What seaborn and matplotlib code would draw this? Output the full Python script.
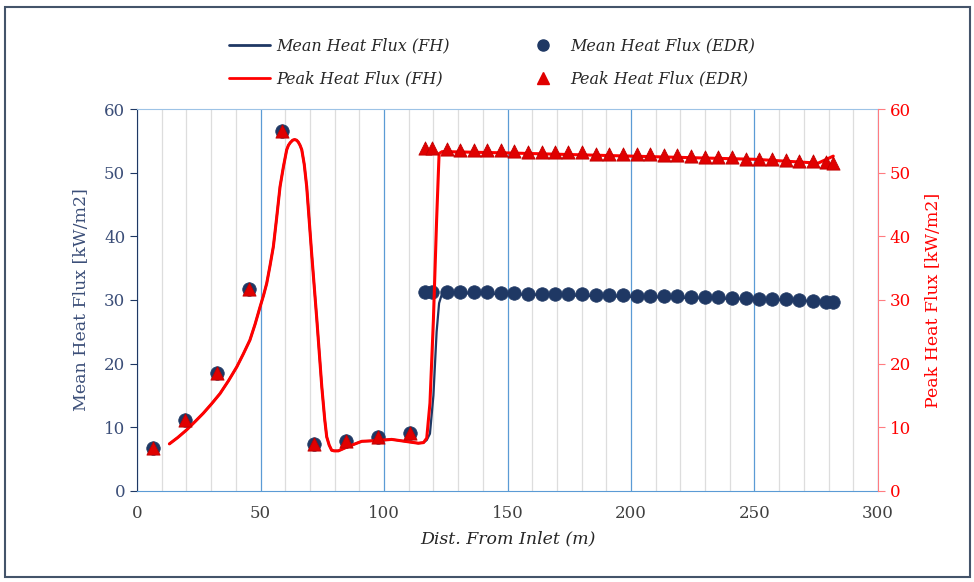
import numpy as np
import pandas as pd
import matplotlib
matplotlib.use("Agg")
import matplotlib.pyplot as plt
from matplotlib.lines import Line2D
from matplotlib.patches import Rectangle
import seaborn as sns

# -------------------------------
# 1. Data
# -------------------------------
edr_x = [6.5, 19.5, 32.5, 45.5, 58.5, 71.5, 84.5, 97.5, 110.5,
         116.6, 119.6, 125.4, 130.8, 136.4, 141.8, 147.4, 152.8, 158.2, 163.8,
         169.2, 174.6, 180.3, 185.7, 191.1, 196.9, 202.3, 207.7, 213.4, 218.5,
         224.2, 229.8, 235.3, 240.8, 246.4, 251.8, 257.2, 262.6, 268.1, 273.6,
         279.0, 281.9]
edr_mean = [6.7, 11.2, 18.6, 31.8, 56.5, 7.4, 7.9, 8.4, 9.1,
            31.3, 31.3, 31.2, 31.2, 31.2, 31.2, 31.1, 31.1, 31.0, 31.0,
            30.9, 30.9, 30.9, 30.8, 30.8, 30.8, 30.7, 30.7, 30.6, 30.6,
            30.5, 30.5, 30.4, 30.3, 30.3, 30.2, 30.1, 30.1, 30.0, 29.9,
            29.7, 29.7]
edr_peak = [6.7, 11.2, 18.6, 31.8, 56.5, 7.4, 7.9, 8.4, 9.1,
            53.8, 53.8, 53.7, 53.6, 53.6, 53.5, 53.5, 53.4, 53.3, 53.3,
            53.3, 53.2, 53.2, 53.0, 53.0, 52.9, 52.9, 52.9, 52.8, 52.7,
            52.6, 52.5, 52.5, 52.4, 52.2, 52.2, 52.1, 52.0, 51.9, 51.8,
            51.6, 51.5]

fh_x = [13.1, 16.5, 20.1, 23.5, 26.8, 30.2, 33.6, 37.0, 40.4, 43.0,
        45.7, 47.8, 49.8, 51.2, 52.5, 53.8, 55.2, 56.5, 57.9, 59.3,
        60.6, 61.3, 62.0, 63.0, 63.8, 64.6, 65.3, 66.0, 66.7, 67.7,
        68.7, 70.7, 72.8, 74.8, 76.0, 76.8, 77.8, 78.8, 79.8, 81.5,
        85.6, 91.0, 96.4, 103.1, 108.5, 113.9, 116.0, 117.3, 118.6, 120.0,
        121.3, 122.3, 123.5, 125.0, 150.0, 200.0, 250.0, 275.8, 281.9]
fh_peak = [7.4, 8.4, 9.6, 10.9, 12.2, 13.7, 15.3, 17.3, 19.5, 21.5,
           23.7, 26.2, 28.9, 30.7, 32.6, 35.3, 38.4, 42.8, 47.8, 51.0,
           53.6, 54.3, 54.7, 55.1, 55.2, 55.1, 54.8, 54.3, 53.6, 51.3,
           47.8, 37.3, 26.9, 16.4, 11.2, 8.5, 7.2, 6.4, 6.3, 6.3,
           7.0, 7.8, 7.9, 8.1, 7.8, 7.5, 7.6, 8.3, 13.8, 26.9,
           42.6, 53.0, 53.3, 53.3, 53.1, 52.6, 52.1, 51.5, 52.6]
fh_mean = [7.4, 8.4, 9.6, 10.9, 12.2, 13.7, 15.3, 17.3, 19.5, 21.5,
           23.7, 26.2, 28.9, 30.7, 32.6, 35.3, 38.4, 42.8, 47.8, 51.0,
           53.6, 54.3, 54.7, 55.1, 55.2, 55.1, 54.8, 54.3, 53.6, 51.3,
           47.8, 37.3, 26.9, 16.4, 11.2, 8.5, 7.2, 6.4, 6.3, 6.3,
           7.0, 7.8, 7.9, 8.1, 7.8, 7.5, 7.6, 8.0, 9.0, 15.0,
           25.0, 29.5, 31.0, 31.1, 30.9, 30.5, 30.1, 29.8, 29.7]

edr = pd.DataFrame({"x": edr_x, "mean": edr_mean, "peak": edr_peak})
fh = pd.DataFrame({"x": fh_x, "mean": fh_mean, "peak": fh_peak})

NAVY = "#1F3864"
RED = "#FF0000"
TRI_RED = "#E00000"
BLUE = "#5B9BD5"

# -------------------------------
# 2. Figure setup
# -------------------------------
sns.set_style("white")
plt.rcParams["font.family"] = ["DejaVu Serif"]

fig = plt.figure(figsize=(9.74, 5.82), dpi=100)
ax = fig.add_axes([0.1407, 0.1564, 0.7607, 0.6563])
ax2 = ax.twinx()

# mean series on left axis
sns.lineplot(data=fh, x="x", y="mean", ax=ax, color=NAVY, lw=1.6,
             sort=False, estimator=None, zorder=3)
sns.scatterplot(data=edr, x="x", y="mean", ax=ax, color=NAVY, marker="o",
                s=95, edgecolor=NAVY, linewidth=0.5, zorder=4)

# peak series on right axis
sns.lineplot(data=fh, x="x", y="peak", ax=ax2, color=RED, lw=2.2,
             sort=False, estimator=None, zorder=3)
sns.scatterplot(data=edr, x="x", y="peak", ax=ax2, color=TRI_RED, marker="^",
                s=90, edgecolor="#C00000", linewidth=0.6, zorder=4)

# -------------------------------
# 3. Axes styling
# -------------------------------
for a in (ax, ax2):
    a.set_xlim(0, 300)
    a.set_ylim(0, 60)
    a.set_yticks(range(0, 61, 10))

ax.set_xticks(range(0, 301, 50))
ax.set_xticks([v for v in range(10, 300, 10) if v % 50], minor=True)
ax.grid(which="major", axis="x", color=BLUE, lw=0.9)
ax.grid(which="minor", axis="x", color="#DDDDDD", lw=0.9)
ax.grid(which="major", axis="y", visible=False)
ax.set_axisbelow(True)

ax.tick_params(axis="x", which="both", length=0, labelsize=12,
               labelcolor="#404040", pad=10)
ax.tick_params(axis="y", length=5, color=NAVY, labelsize=12,
               labelcolor="#3B4E78", direction="out", left=True)
ax2.tick_params(axis="y", length=5, color="#FF7C80", labelsize=12,
                labelcolor=RED, direction="out", right=True)

ax.spines["left"].set_color(NAVY)
ax.spines["bottom"].set_color(BLUE)
ax.spines["top"].set_color("#9DC3E6")
ax.spines["right"].set_visible(False)
for s in ("left", "top", "bottom"):
    ax2.spines[s].set_visible(False)
ax2.spines["right"].set_color("#FF7C80")

ax.set_xlabel("Dist. From Inlet (m)", fontsize=12.5, style="italic",
              color="#262626", labelpad=6)
ax.set_ylabel("Mean Heat Flux [kW/m2]", fontsize=12.5, color="#3B4E78",
              labelpad=10)
ax2.set_ylabel("Peak Heat Flux [kW/m2]", fontsize=12.5, color=RED,
               labelpad=10)

# -------------------------------
# 4. Legend and frame
# -------------------------------
handles = [
    Line2D([], [], color=NAVY, lw=2),
    Line2D([], [], color=RED, lw=2),
    Line2D([], [], color=NAVY, marker="o", ls="none", markersize=8),
    Line2D([], [], color=TRI_RED, marker="^", ls="none", markersize=8),
]
labels = ["Mean Heat Flux (FH)", "Peak Heat Flux (FH)",
          "Mean Heat Flux (EDR)", "Peak Heat Flux (EDR)"]
fig.legend(handles, labels, ncol=2, loc="center", bbox_to_anchor=(0.505, 0.893),
           frameon=False, prop={"style": "italic", "size": 11.5},
           columnspacing=4.5, labelspacing=1.0, handlelength=2.6,
           handletextpad=0.4)

fig.patches.append(Rectangle((0.005, 0.008), 0.991, 0.98,
                             transform=fig.transFigure, fill=False,
                             edgecolor="#44546A", lw=1.5))

fig.savefig("out.png", dpi=100)
